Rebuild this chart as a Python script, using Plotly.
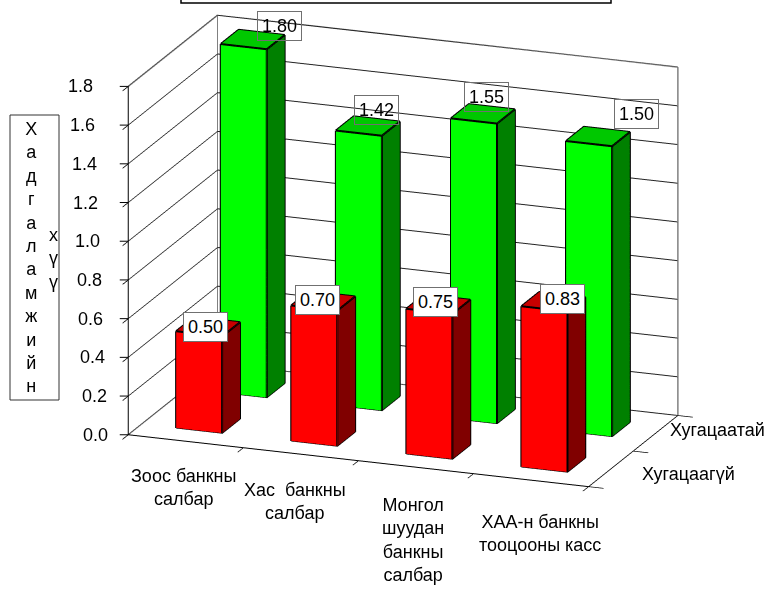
import plotly.graph_objects as go

categories = ["Зоос банкны<br>салбар", "Хас  банкны<br>салбар", "Монгол<br>шуудан<br>банкны<br>салбар", "ХАА-н банкны<br>тооцооны касс"]
series_names = ["Хугацаагүй", "Хугацаатай"]
red_values = [0.50, 0.70, 0.75, 0.83]
green_values = [1.80, 1.42, 1.55, 1.50]
z_ticks = [0.0, 0.2, 0.4, 0.6, 0.8, 1.0, 1.2, 1.4, 1.6, 1.8]
axis_title_1 = "Хадгаламжийн"
axis_title_2 = "хүү"
BAR_HALF_X = 0.2
BAR_HALF_Y = 0.2
XR = [-0.5, 3.5]
YR = [-0.5, 1.5]
ZR = [0, 1.8001]
FONT = dict(size=18,color="black",family="Liberation Sans")

fig = go.Figure()
FACES = [(0,1,2),(0,2,3),(4,5,6),(4,6,7),(0,1,5),(0,5,4),(1,2,6),(1,6,5),(2,3,7),(2,7,6),(3,0,4),(3,4,7)]

def add_bar(cx, cy, h, front, top, side):
    x0,x1,y0,y1 = cx-BAR_HALF_X, cx+BAR_HALF_X, cy-BAR_HALF_Y, cy+BAR_HALF_Y
    xs=[x0,x1,x1,x0,x0,x1,x1,x0]; ys=[y0,y0,y1,y1,y0,y0,y1,y1]; zs=[0,0,0,0,h,h,h,h]
    fc=[side,side,top,top,front,front,side,side,side,side,side,side]
    fig.add_trace(go.Mesh3d(x=xs,y=ys,z=zs,i=[f[0] for f in FACES],j=[f[1] for f in FACES],k=[f[2] for f in FACES],
        facecolor=fc,flatshading=True,lighting=dict(ambient=1,diffuse=0,specular=0,roughness=1,fresnel=0),showscale=False,hoverinfo="skip"))
    ex=[x0,x1,x1,x0,x0,None,x0,x1,x1,x0,x0,None,x0,x0,None,x1,x1,None,x1,x1]
    ey=[y0,y0,y1,y1,y0,None,y0,y0,y1,y1,y0,None,y0,y0,None,y0,y0,None,y1,y1]
    ez=[h,h,h,h,h,None,0,0,0,0,0,None,0,h,None,0,h,None,0,h]
    fig.add_trace(go.Scatter3d(x=ex,y=ey,z=ez,mode="lines",line=dict(color="black",width=4),showlegend=False,hoverinfo="skip"))

# grey wall frame
fig.add_trace(go.Scatter3d(
    x=[XR[0],XR[0],XR[0],XR[1],XR[1],None,XR[0],XR[1]],
    y=[YR[0],YR[1],YR[1],YR[1],YR[1],None,YR[1],YR[1]],
    z=[ZR[1],ZR[1],ZR[0],ZR[0],ZR[1],None,ZR[1],ZR[1]],
    mode="lines",line=dict(color="#808080",width=3),showlegend=False,hoverinfo="skip"))
fig.add_trace(go.Scatter3d(x=[XR[0],XR[0]],y=[YR[0],YR[1]],z=[ZR[0],ZR[0]],mode="lines",line=dict(color="#808080",width=3),showlegend=False,hoverinfo="skip"))

anns=[]
LABEL = dict(showarrow=False,bordercolor="#707070",borderwidth=1,borderpad=4,font=FONT)
cat_xshift = [-2,-6,-3,9]
cat_yshift = [-23,-24,-26,-30]
green_xshift = [27,9,4,39]
green_yshift = [14,16,17,23]
red_xshift = [-3,-6,-3,9]
red_yshift = [0,1,2,3]
ser_xshift = [29,12]
ser_yshift = [-5,3]
for i,(r,g) in enumerate(zip(red_values,green_values)):
    add_bar(i,1,g,"#00ff00","#00c800","#008000")
    add_bar(i,0,r,"#ff0000","#c80000","#800000")
    anns.append(dict(x=i,y=1,z=g,text=f"{g:.2f}",yshift=green_yshift[i],xshift=green_xshift[i],**LABEL))
    anns.append(dict(x=i,y=0,z=r,text=f"{r:.2f}",yshift=red_yshift[i],xshift=red_xshift[i],bgcolor="white",**LABEL))
    anns.append(dict(x=i,y=YR[0],z=0,text=categories[i],showarrow=False,yanchor="top",yshift=cat_yshift[i],xshift=cat_xshift[i],font=FONT))
for j,name in enumerate(series_names):
    anns.append(dict(x=XR[1],y=j,z=0,text=name,showarrow=False,xanchor="left",xshift=ser_xshift[j],yshift=ser_yshift[j],font=FONT))
for t in z_ticks:
    anns.append(dict(x=XR[0],y=YR[0],z=t,text=f"{t:.1f}",showarrow=False,xanchor="right",xshift=-18-15*t/1.8,font=FONT))
    anns.append(dict(x=XR[0],y=YR[0],z=t,text=" ",showarrow=True,ax=-9,ay=0,arrowhead=0,arrowwidth=1,arrowcolor="black",font=dict(size=1),borderpad=0))

axis=dict(showbackground=True,backgroundcolor="white",showgrid=False,zeroline=False,showline=True,linecolor="black",linewidth=2,title="",showspikes=False,ticks="outside",tickcolor="black",ticklen=16,tickwidth=2,tickangle=0)
fig.update_layout(width=773,height=589,margin=dict(l=0,r=0,t=0,b=0),showlegend=False,paper_bgcolor="white",
    font=FONT,
    scene=dict(
        xaxis=dict(axis,range=XR,tickvals=[-0.5,0.5,1.5,2.5,3.5],ticktext=[""]*5),
        yaxis=dict(axis,range=YR,tickvals=[-0.5,0.5,1.5],ticktext=[""]*3),
        zaxis=dict(axis,range=ZR,tickvals=z_ticks,ticktext=[""]*10,showgrid=True,gridcolor="#222222",gridwidth=2),
        aspectmode="manual",aspectratio=dict(x=1.67,y=0.861,z=1.24),
        camera=dict(eye=dict(x=0.466,y=-1.399,z=0.308),center=dict(x=-0.038,y=-0.0586,z=-0.142),up=dict(x=0,y=0,z=1),projection=dict(type="orthographic")),
        annotations=anns,
        domain=dict(x=[0,1.0],y=[0.0,1.0]),
    ),
    shapes=[dict(type="rect",xref="paper",yref="paper",x0=181/773,x1=611/773,y0=1-3/589,y1=1.02,line=dict(color="black",width=1.5),fillcolor="white"),
            dict(type="rect",xref="paper",yref="paper",x0=10/773,x1=59/773,y0=1-400/589,y1=1-115/589,line=dict(color="#333333",width=1))],
    annotations=[dict(xref="paper",yref="paper",x=23/773,y=1-257.5/589,showarrow=False,text="<br>".join(axis_title_1),font=FONT),
                 dict(xref="paper",yref="paper",x=47/773,y=1-258.5/589,showarrow=False,text="<br>".join(axis_title_2),font=FONT)])
fig.write_html("out.html", config={"displayModeBar": False}, post_script="document.body.style.margin='0';")
